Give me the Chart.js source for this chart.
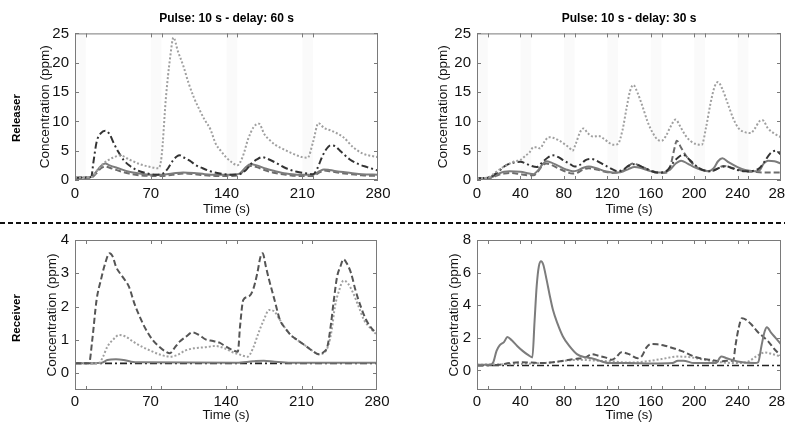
<!DOCTYPE html>
<html>
<head>
<meta charset="utf-8">
<script src="https://cdn.jsdelivr.net/npm/chart.js@4.4.1/dist/chart.umd.min.js"></script>
<style>
  html, body { margin: 0; padding: 0; background: #fff; }
  #fig { position: relative; width: 785px; height: 423px; overflow: hidden; background: #fff; }
  #fig canvas { position: absolute; }
  #sep { position: absolute; left: 0; top: 222px; width: 785px; height: 2px;
         background: repeating-linear-gradient(to right, #111 0 5px, transparent 5px 8px); }
</style>
</head>
<body>
<div id="fig">
  <canvas id="relA" width="398" height="220" style="left:0px;top:0px"></canvas>
  <canvas id="relB" width="374" height="220" style="left:427px;top:0px"></canvas>
  <canvas id="recA" width="397" height="198" style="left:0px;top:225px"></canvas>
  <canvas id="recB" width="374" height="198" style="left:427px;top:225px"></canvas>
  <div id="sep"></div>
</div>
<script>
// ---- data: releaser, delay 60 s ----
var rel60_dotT  = [0, 15, 20, 25, 30, 35, 42, 50, 60, 70, 77, 80, 84, 88, 91, 95, 100, 105, 110, 115, 120, 125, 130, 135, 140, 145, 150, 155, 160, 165, 170, 175, 180, 185, 190, 200, 210, 215, 220, 225, 230, 237, 248, 257, 266, 277, 280];
var rel60_dotV  = [0.4, 0.5, 1.5, 2.6, 3.3, 3.8, 4.2, 3.5, 2.7, 2.2, 2.0, 4.0, 14, 21, 24.3, 22, 19.5, 16.5, 14, 12, 10.2, 8.7, 6.2, 4.9, 3.8, 3.0, 2.5, 4.0, 7.0, 9.0, 9.6, 7.8, 6.8, 6.0, 5.5, 4.6, 3.9, 3.8, 6.5, 9.7, 8.9, 8.4, 7.3, 5.6, 4.5, 4.0, 3.9];
var rel60_ddT   = [0, 15, 17, 20, 24, 28, 32, 36, 40, 45, 50, 57, 65, 75, 82, 86, 90, 94, 97, 100, 106, 112, 118, 125, 134, 145, 152, 158, 163, 168, 173, 178, 185, 195, 205, 215, 220, 224, 228, 232, 236, 240, 246, 254, 262, 270, 280];
var rel60_ddV   = [0.4, 0.5, 3.0, 6.5, 8.0, 8.4, 7.8, 6.2, 4.8, 3.4, 2.5, 1.7, 1.2, 0.9, 1.2, 2.0, 3.2, 4.0, 4.2, 3.9, 3.3, 2.5, 2.0, 1.5, 1.1, 0.9, 1.0, 1.7, 2.8, 3.5, 3.9, 3.6, 3.0, 2.0, 1.4, 1.1, 1.0, 2.0, 3.8, 5.2, 5.9, 5.8, 4.8, 3.5, 2.7, 2.2, 1.6];
var rel60_solT  = [0, 15, 20, 24, 28, 32, 40, 50, 60, 70, 80, 90, 100, 110, 120, 130, 145, 152, 158, 162, 168, 175, 185, 195, 205, 220, 226, 230, 235, 245, 255, 265, 280];
var rel60_solV  = [0.4, 0.5, 1.5, 2.4, 2.8, 2.5, 2.0, 1.4, 1.1, 0.9, 0.9, 1.1, 1.3, 1.2, 1.0, 0.9, 0.9, 1.1, 2.2, 2.7, 2.5, 2.0, 1.5, 1.1, 0.9, 0.9, 1.5, 1.8, 1.7, 1.4, 1.2, 1.0, 0.9];
var rel60_dashT = [0, 15, 20, 24, 28, 32, 40, 50, 60, 70, 80, 90, 100, 110, 120, 130, 145, 152, 158, 162, 168, 175, 185, 195, 205, 220, 226, 230, 235, 245, 255, 265, 280];
var rel60_dashV = [0.3, 0.4, 1.2, 2.0, 2.3, 2.1, 1.6, 1.1, 0.8, 0.7, 0.7, 0.9, 1.1, 1.0, 0.8, 0.7, 0.7, 0.9, 2.0, 2.4, 2.2, 1.7, 1.2, 0.9, 0.7, 0.7, 1.3, 1.6, 1.5, 1.2, 1.0, 0.8, 0.7];

// ---- data: releaser, delay 30 s ----
var rel30_dotT  = [0, 10, 15, 20, 25, 30, 35, 40, 45, 48, 52, 55, 58, 62, 66, 70, 75, 80, 85, 88, 91, 95, 98, 102, 107, 112, 117, 122, 126, 130, 134, 138, 141, 144, 148, 152, 157, 162, 167, 170, 174, 178, 183, 187, 192, 197, 202, 207, 211, 215, 219, 222, 226, 231, 236, 241, 246, 252, 256, 260, 263, 268, 274, 280];
var rel30_dotV  = [0.3, 0.4, 1.0, 1.7, 2.3, 2.8, 3.2, 3.4, 4.2, 4.6, 5.6, 5.6, 5.4, 6.5, 7.3, 7.2, 6.8, 6.2, 5.5, 5.0, 6.2, 8.2, 8.8, 8.0, 7.4, 7.5, 7.0, 6.3, 6.0, 6.2, 8.5, 12.5, 15.2, 16.2, 14.8, 12.8, 10, 8, 6.8, 6.7, 7.5, 9, 10.3, 9.2, 7.6, 6.6, 6.1, 6.0, 9, 13, 16, 16.7, 15.5, 13, 10.5, 8.8, 8.2, 8.0, 8.8, 10.0, 10.2, 8.8, 7.9, 7.3];
var rel30_ddT   = [0, 10, 15, 20, 25, 30, 35, 40, 45, 50, 55, 60, 65, 70, 75, 80, 85, 90, 95, 100, 105, 110, 115, 120, 125, 130, 135, 140, 145, 150, 155, 160, 165, 170, 175, 180, 185, 190, 195, 200, 205, 210, 215, 220, 225, 230, 235, 240, 245, 250, 255, 260, 265, 270, 275, 280];
var rel30_ddV   = [0.3, 0.4, 0.8, 1.5, 2.3, 2.8, 3.0, 3.1, 2.8, 2.4, 2.2, 3.0, 3.8, 4.2, 3.9, 3.3, 2.8, 2.3, 2.6, 3.4, 3.6, 3.3, 2.8, 2.3, 1.8, 1.5, 1.8, 2.5, 2.7, 2.4, 2.0, 1.6, 1.3, 1.3, 1.6, 2.8, 3.8, 4.3, 3.6, 2.7, 2.0, 1.6, 1.5, 1.8, 2.2, 2.3, 2.0, 1.7, 1.5, 1.5, 1.6, 2.0, 3.2, 4.5, 5.0, 4.3];
var rel30_solT  = [0, 10, 15, 20, 25, 30, 40, 48, 52, 56, 60, 64, 68, 75, 82, 88, 92, 98, 103, 110, 118, 125, 130, 135, 140, 145, 150, 158, 165, 172, 178, 183, 188, 194, 200, 207, 213, 218, 222, 226, 232, 240, 247, 255, 260, 264, 268, 274, 280];
var rel30_solV  = [0.3, 0.35, 0.6, 1.1, 1.4, 1.5, 1.4, 1.1, 1.0, 1.6, 2.6, 3.2, 3.0, 2.4, 1.8, 1.5, 1.6, 2.1, 2.3, 2.0, 1.5, 1.3, 1.3, 1.5, 1.9, 2.2, 2.1, 1.6, 1.3, 1.3, 1.8, 2.8, 3.3, 2.8, 2.2, 1.7, 1.5, 2.0, 3.2, 3.7, 3.0, 2.2, 1.7, 1.5, 1.6, 2.8, 3.3, 3.2, 2.8];
var rel30_dashT = [0, 10, 15, 20, 25, 30, 40, 48, 52, 56, 60, 64, 68, 75, 82, 88, 92, 98, 103, 110, 118, 125, 132, 138, 143, 148, 155, 162, 170, 176, 179, 182, 184, 188, 193, 198, 204, 210, 216, 222, 227, 233, 240, 247, 255, 262, 270, 280];
var rel30_dashV = [0.25, 0.3, 0.5, 0.9, 1.1, 1.2, 1.0, 0.8, 0.8, 1.4, 2.4, 2.8, 2.6, 2.0, 1.4, 1.1, 1.2, 1.8, 2.0, 1.8, 1.4, 1.2, 1.4, 2.0, 2.8, 2.6, 2.0, 1.5, 1.2, 1.3, 3.0, 5.5, 6.7, 5.5, 4.0, 2.9, 2.0, 1.6, 1.5, 2.0, 2.4, 2.2, 1.8, 1.5, 1.4, 1.3, 1.3, 1.3];

// ---- data: receiver, delay 60 s ----
var rec60_dashT = [0, 13, 16, 20, 24, 28, 32, 35, 38, 44, 50, 55, 60, 66, 72, 78, 84, 88, 92, 97, 103, 109, 115, 121, 128, 134, 140, 146, 151, 153, 156, 161, 165, 169, 172, 174, 177, 180, 185, 190, 195, 200, 207, 214, 220, 226, 231, 234, 237, 240, 243, 246, 249, 252, 256, 260, 265, 270, 275, 280];
var rec60_dashV = [0.3, 0.3, 1.0, 2.2, 2.8, 3.3, 3.6, 3.5, 3.2, 2.9, 2.6, 2.1, 1.7, 1.3, 1.0, 0.8, 0.65, 0.6, 0.75, 0.95, 1.1, 1.23, 1.15, 1.02, 0.97, 0.92, 0.8, 0.7, 0.65, 1.4, 2.2, 2.3, 2.5, 3.0, 3.5, 3.6, 3.2, 2.8, 2.2, 1.6, 1.35, 1.15, 0.98, 0.82, 0.68, 0.57, 0.65, 0.8, 1.4, 2.2, 2.9, 3.2, 3.42, 3.3, 3.0, 2.5, 2.0, 1.6, 1.35, 1.2];
var rec60_dotT  = [0, 22, 26, 30, 35, 41, 47, 54, 62, 70, 80, 88, 95, 102, 110, 120, 130, 138, 145, 152, 160, 165, 170, 175, 180, 185, 190, 195, 200, 207, 214, 220, 226, 231, 235, 238, 241, 245, 249, 253, 258, 263, 268, 274, 280];
var rec60_dotV  = [0.3, 0.3, 0.5, 0.8, 1.0, 1.15, 1.1, 0.95, 0.8, 0.68, 0.55, 0.5, 0.55, 0.68, 0.75, 0.78, 0.82, 0.76, 0.65, 0.57, 0.5, 0.75, 1.2, 1.6, 1.9, 1.85, 1.6, 1.35, 1.15, 0.98, 0.82, 0.68, 0.57, 0.62, 0.85, 1.3, 2.0, 2.5, 2.78, 2.7, 2.4, 2.0, 1.6, 1.35, 1.15];
var rec60_solT  = [0, 25, 30, 38, 45, 52, 60, 150, 165, 175, 185, 200, 280];
var rec60_solV  = [0.3, 0.32, 0.4, 0.42, 0.4, 0.35, 0.33, 0.32, 0.36, 0.38, 0.35, 0.32, 0.32];
var rec60_ddT   = [0, 280];
var rec60_ddV   = [0.3, 0.3];

// ---- data: receiver, delay 30 s ----
var rec30_solT  = [0, 12, 15, 18, 21, 25, 28, 32, 37, 42, 47, 51, 53, 55, 57, 59, 61, 64, 67, 70, 74, 79, 85, 92, 100, 107, 115, 122, 140, 160, 180, 185, 190, 200, 220, 225, 230, 240, 256, 259, 262, 265, 267, 271, 275, 280];
var rec30_solV  = [0.35, 0.35, 0.5, 1.2, 1.55, 1.75, 2.05, 1.85, 1.5, 1.2, 0.95, 0.8, 3.0, 5.2, 6.4, 6.7, 6.5, 5.6, 4.6, 3.7, 2.9, 2.1, 1.5, 1.0, 0.8, 0.72, 0.55, 0.45, 0.45, 0.42, 0.45, 0.6, 0.6, 0.45, 0.45, 0.85, 0.75, 0.55, 0.45, 0.5, 1.5, 2.4, 2.65, 2.3, 2.0, 1.6];
var rec30_dashT = [0, 20, 30, 40, 50, 60, 70, 80, 90, 100, 106, 112, 118, 124, 128, 133, 140, 148, 152, 156, 160, 166, 173, 180, 188, 195, 200, 207, 215, 225, 230, 236, 238, 241, 244, 248, 253, 258, 263, 268, 274, 280];
var rec30_dashV = [0.3, 0.35, 0.45, 0.5, 0.48, 0.45, 0.5, 0.6, 0.7, 0.8, 1.0, 0.9, 0.8, 0.65, 0.8, 1.12, 1.0, 0.75, 0.9, 1.4, 1.62, 1.6, 1.52, 1.38, 1.2, 1.0, 0.85, 0.72, 0.65, 0.55, 0.6, 0.6, 1.5, 2.6, 3.2, 3.1, 2.8, 2.4, 2.1, 1.8, 1.3, 0.9];
var rec30_dotT  = [0, 30, 50, 70, 85, 95, 110, 125, 140, 155, 170, 185, 195, 210, 225, 240, 250, 258, 265, 272, 280];
var rec30_dotV  = [0.35, 0.38, 0.42, 0.5, 0.62, 0.65, 0.6, 0.55, 0.48, 0.55, 0.7, 0.85, 0.82, 0.65, 0.5, 0.45, 0.55, 0.9, 1.1, 1.0, 0.85];
var rec30_ddT   = [0, 280];
var rec30_ddV   = [0.3, 0.3];

// ---- axes ----
var ticks60 = [0, 70, 140, 210, 280];
var ticks30 = [0, 40, 80, 120, 160, 200, 240, 280];
var marks60 = [10, 70, 80, 140, 150, 210, 220];
var marks30 = [10, 40, 50, 80, 90, 120, 130, 160, 170, 200, 210, 240, 250];
var bands60 = [[0, 10], [70, 80], [140, 150], [210, 220]];
var bands30 = [[0, 10], [40, 50], [80, 90], [120, 130], [160, 170], [200, 210], [240, 250]];
var relYTicks = [0, 5, 10, 15, 20, 25];
var rec60YTicks = [0, 1, 2, 3, 4];
var rec30YTicks = [0, 2, 4, 6, 8];

var FONT = '"Liberation Sans", Arial, sans-serif';
var STYLE = {
  dot:     { color: '#a0a0a0', dash: [2, 2], width: 2 },
  dashDot: { color: '#333333', dash: [7, 3, 2, 3], width: 2 },
  solid:   { color: '#7c7c7c', dash: [], width: 2 },
  dashed:  { color: '#6c6c6c', dash: [6, 3], width: 2 },
  dashedDark: { color: '#555555', dash: [6, 3], width: 2 },
  base:    { color: '#222222', dash: [7, 3, 2, 3], width: 1.6 }
};

// frame, inward ticks, pulse bands and row label, matlab style
var framePlugin = {
  id: 'frame',
  beforeDatasetsDraw: function (chart, args, opts) {
    var ctx = chart.ctx, a = chart.chartArea, x = chart.scales.x;
    ctx.save();
    ctx.fillStyle = 'rgba(0,0,0,0.018)';
    (opts.bands || []).forEach(function (b) {
      var x0 = x.getPixelForValue(b[0]), x1 = x.getPixelForValue(b[1]);
      ctx.fillRect(x0, a.top, x1 - x0, a.bottom - a.top);
    });
    ctx.restore();
  },
  afterDatasetsDraw: function (chart, args, opts) {
    var ctx = chart.ctx, a = chart.chartArea, x = chart.scales.x, y = chart.scales.y;
    var len = 4;
    ctx.save();
    ctx.strokeStyle = '#7a7a7a';
    ctx.lineWidth = 1;
    ctx.strokeRect(a.left + 0.5, a.top + 0.5, a.right - a.left - 1, a.bottom - a.top - 1);
    ctx.beginPath();
    opts.xMarks.forEach(function (v) {
      var px = Math.round(x.getPixelForValue(v)) + 0.5;
      ctx.moveTo(px, a.bottom); ctx.lineTo(px, a.bottom - len);
      ctx.moveTo(px, a.top); ctx.lineTo(px, a.top + len);
    });
    opts.yMarks.forEach(function (v) {
      var py = Math.round(y.getPixelForValue(v)) + 0.5;
      ctx.moveTo(a.left, py); ctx.lineTo(a.left + len, py);
      ctx.moveTo(a.right, py); ctx.lineTo(a.right - len, py);
    });
    ctx.stroke();
    if (opts.rowLabel) {
      ctx.translate(17, opts.rowY);
      ctx.rotate(-Math.PI / 2);
      ctx.fillStyle = '#000';
      ctx.font = 'bold 11.5px ' + FONT;
      ctx.textAlign = 'center';
      ctx.textBaseline = 'middle';
      ctx.fillText(opts.rowLabel, 0, 0);
    }
    ctx.restore();
  }
};

function series(t, v, s) {
  return {
    data: t.map(function (tt, i) { return { x: tt, y: v[i] }; }),
    borderColor: s.color, borderDash: s.dash, borderWidth: s.width,
    pointRadius: 0, fill: false, cubicInterpolationMode: 'monotone'
  };
}

function panel(id, cfg) {
  return new Chart(document.getElementById(id), {
    type: 'line',
    data: { datasets: cfg.datasets },
    options: {
      responsive: false,
      animation: false,
      devicePixelRatio: 1,
      layout: { padding: { top: cfg.padTop, right: 20, left: 0, bottom: 0 } },
      plugins: {
        legend: { display: false },
        tooltip: { enabled: false },
        title: {
          display: !!cfg.title, text: cfg.title, fullSize: false, color: '#000',
          font: { family: FONT, size: 12, weight: 'bold' },
          padding: { top: 11, bottom: 8 }
        },
        frame: { xMarks: cfg.xMarks, yMarks: cfg.yTicks, bands: cfg.bands, rowLabel: cfg.rowLabel, rowY: cfg.rowY }
      },
      scales: {
        x: {
          type: 'linear', min: 0, max: 280,
          grid: { display: false, drawTicks: false }, border: { display: false },
          ticks: { padding: cfg.xPad, color: '#111', font: { family: FONT, size: 15 }, maxRotation: 0, autoSkip: false },
          title: { display: true, text: 'Time (s)', color: '#111', font: { family: FONT, size: 13 }, padding: { top: 0, bottom: cfg.xTitlePad } },
          afterBuildTicks: function (s) { s.ticks = cfg.xTicks.map(function (v) { return { value: v }; }); },
          afterFit: function (s) { s.height = cfg.xH; }
        },
        y: {
          type: 'linear', min: cfg.yMin, max: cfg.yMax,
          grid: { display: false, drawTicks: false }, border: { display: false },
          ticks: { padding: 6, color: '#111', font: { family: FONT, size: 15 } },
          title: { display: true, text: 'Concentration (ppm)', color: '#111', font: { family: FONT, size: 13.5 }, padding: { top: cfg.yTitlePad, bottom: 0 } },
          afterBuildTicks: function (s) { s.ticks = cfg.yTicks.map(function (v) { return { value: v }; }); },
          afterFit: function (s) { s.width = cfg.yW; }
        }
      }
    },
    plugins: [framePlugin]
  });
}

panel('relA', {
  title: 'Pulse: 10 s - delay: 60 s', padTop: 0, xH: 40, xPad: 5, xTitlePad: 3, yW: 75, yTitlePad: 37,
  rowLabel: 'Releaser', rowY: 118,
  yMin: 0, yMax: 25, yTicks: relYTicks, xTicks: ticks60, xMarks: marks60, bands: bands60,
  datasets: [
    series(rel60_dotT, rel60_dotV, STYLE.dot),
    series(rel60_ddT, rel60_ddV, STYLE.dashDot),
    series(rel60_solT, rel60_solV, STYLE.solid),
    series(rel60_dashT, rel60_dashV, STYLE.dashed)
  ]
});

panel('relB', {
  title: 'Pulse: 10 s - delay: 30 s', padTop: 0, xH: 40, xPad: 5, xTitlePad: 3, yW: 50, yTitlePad: 8,
  yMin: 0, yMax: 25, yTicks: relYTicks, xTicks: ticks30, xMarks: marks30, bands: bands30,
  datasets: [
    series(rel30_dotT, rel30_dotV, STYLE.dot),
    series(rel30_ddT, rel30_ddV, STYLE.dashDot),
    series(rel30_solT, rel30_solV, STYLE.solid),
    series(rel30_dashT, rel30_dashV, STYLE.dashed)
  ]
});

panel('recA', {
  title: '', padTop: 15, xH: 33, xPad: 3, xTitlePad: 0, yW: 75, yTitlePad: 44,
  rowLabel: 'Receiver', rowY: 93,
  yMin: -0.5, yMax: 4, yTicks: rec60YTicks, xTicks: ticks60, xMarks: marks60, bands: [],
  datasets: [
    series(rec60_dashT, rec60_dashV, STYLE.dashedDark),
    series(rec60_dotT, rec60_dotV, STYLE.dot),
    series(rec60_solT, rec60_solV, STYLE.solid),
    series(rec60_ddT, rec60_ddV, STYLE.base)
  ]
});

panel('recB', {
  title: '', padTop: 15, xH: 33, xPad: 3, xTitlePad: 0, yW: 50, yTitlePad: 19,
  yMin: -1.2, yMax: 8, yTicks: rec30YTicks, xTicks: ticks30, xMarks: marks30, bands: [],
  datasets: [
    series(rec30_solT, rec30_solV, STYLE.solid),
    series(rec30_dashT, rec30_dashV, STYLE.dashedDark),
    series(rec30_dotT, rec30_dotV, STYLE.dot),
    series(rec30_ddT, rec30_ddV, STYLE.base)
  ]
});
</script>
</body>
</html>
